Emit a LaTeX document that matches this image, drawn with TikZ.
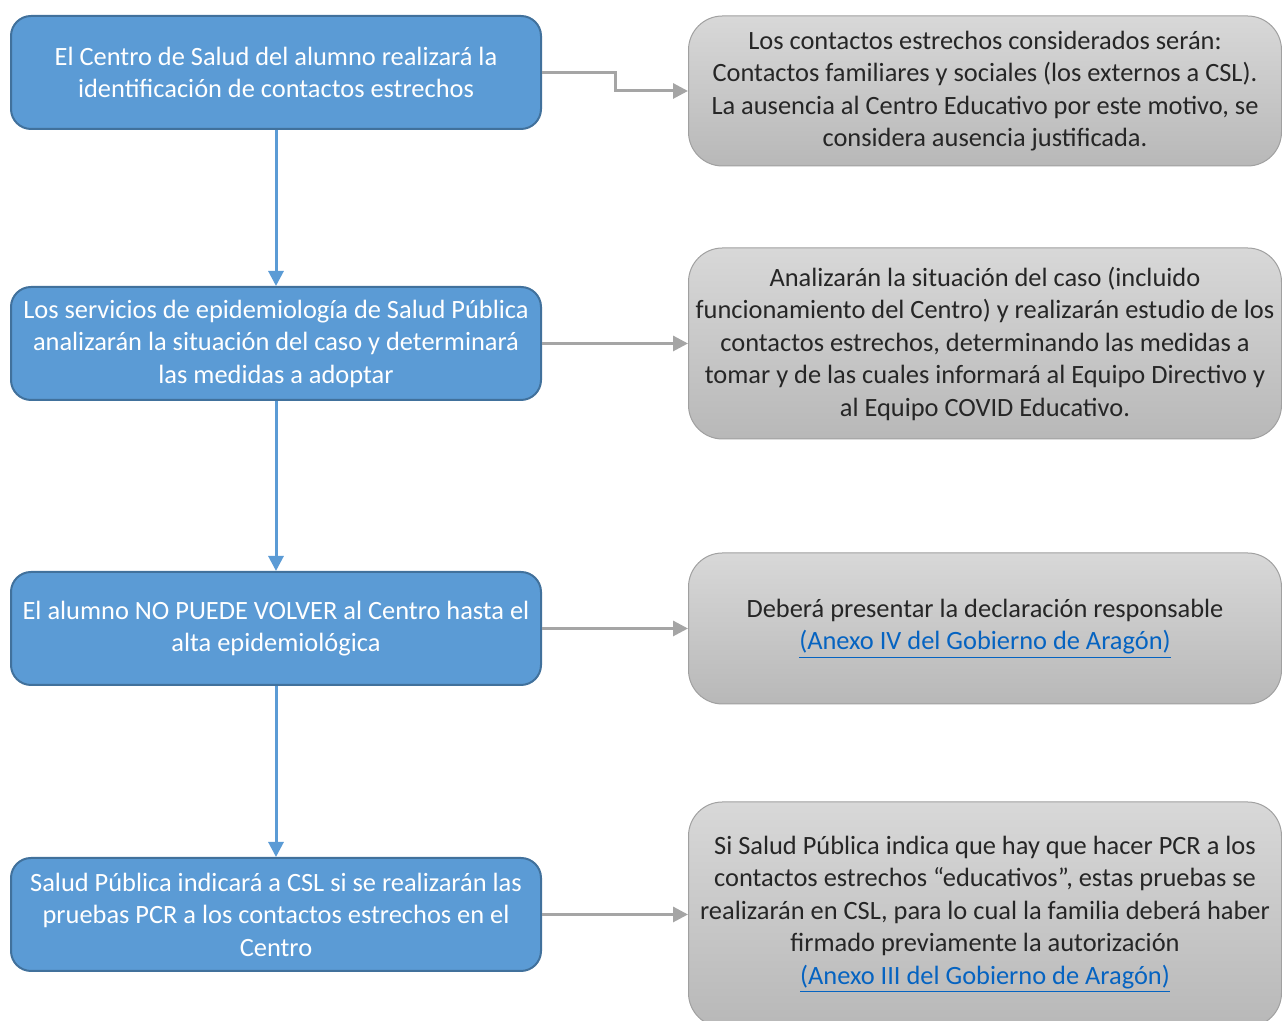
\documentclass[tikz,border=0pt]{standalone}
\usepackage{fontspec}
\setmainfont{Carlito}
\usetikzlibrary{arrows.meta}
\definecolor{boxblue}{RGB}{91,155,213}
\definecolor{boxblueline}{RGB}{65,113,156}
\definecolor{boxgraytop}{RGB}{216,216,216}
\definecolor{boxgraybot}{RGB}{184,184,184}
\definecolor{boxgrayline}{RGB}{160,160,160}
\definecolor{arrowgray}{RGB}{165,165,165}
\definecolor{linkblue}{RGB}{5,99,193}
\newcommand{\anexo}[1]{\textcolor{linkblue}{\underline{#1}}}
\tikzset{
  stepnode/.style={rounded corners=10pt, draw=boxblueline, line width=1pt, fill=boxblue,
    text=white, align=center, minimum width=265pt, minimum height=56.5pt,
    font=\fontsize{13.2}{16.25}\selectfont},
  infonode/.style={rounded corners=17pt, draw=boxgrayline, line width=0.5pt,
    top color=boxgraytop, bottom color=boxgraybot, text=black!85, align=center,
    minimum width=296.5pt, font=\fontsize{13.2}{16.25}\selectfont},
  bluearrow/.style={draw=boxblue, line width=1.5pt, -{Triangle[width=7.5pt,length=7.5pt]}},
  grayarrow/.style={draw=arrowgray, line width=1.5pt, -{Triangle[width=7.5pt,length=7.5pt]}}
}
\begin{document}
\begin{tikzpicture}[x=0.5pt,y=0.5pt]
        \useasboundingbox (0,0) rectangle (1282,1021);
        \clip (0,0) rectangle (1282,1021);

        \node[stepnode] (b1) at (276, 948.5) {El Centro de Salud del alumno realizará la\\identificación de contactos estrechos};
        \node[stepnode] (b2) at (276, 677.5) {Los servicios de epidemiología de Salud Pública\\analizarán la situación del caso y determinará\\las medidas a adoptar};
        \node[stepnode] (b3) at (276, 392.5) {El alumno NO PUEDE VOLVER al Centro hasta el\\alta epidemiológica};
        \node[stepnode] (b4) at (276, 106.5) {Salud Pública indicará a CSL si se realizarán las\\pruebas PCR a los contactos estrechos en el\\Centro};

        \node[infonode, minimum height=75pt] (r1) at (985, 930) {Los contactos estrechos considerados serán:\\Contactos familiares y sociales (los externos a CSL).\\La ausencia al Centro Educativo por este motivo, se\\considera ausencia justificada.};
        \node[infonode, minimum height=95.5pt] (r2) at (985, 677.5) {Analizarán la situación del caso (incluido\\funcionamiento del Centro) y realizarán estudio de los\\contactos estrechos, determinando las medidas a\\tomar y de las cuales informará al Equipo Directivo y\\al Equipo COVID Educativo.};
        \node[infonode, minimum height=75.5pt] (r3) at (985, 392.5) {Deberá presentar la declaración responsable\\\anexo{(Anexo IV del Gobierno de Aragón)}};
        \node[infonode, minimum height=112.5pt] (r4) at (985, 106.5) {Si Salud Pública indica que hay que hacer PCR a los\\contactos estrechos “educativos”, estas pruebas se\\realizarán en CSL, para lo cual la familia deberá haber\\firmado previamente la autorización\\\anexo{(Anexo III del Gobierno de Aragón)}};

        \draw[bluearrow] (b1) -- (b2);
        \draw[bluearrow] (b2) -- (b3);
        \draw[bluearrow] (b3) -- (b4);

        \draw[grayarrow] (b1.east) -- ++(73,0) |- (r1.west);
        \draw[grayarrow] (b2.east) -- (r2.west);
        \draw[grayarrow] (b3.east) -- (r3.west);
        \draw[grayarrow] (b4.east) -- (r4.west);

    \end{tikzpicture}
\end{document}
